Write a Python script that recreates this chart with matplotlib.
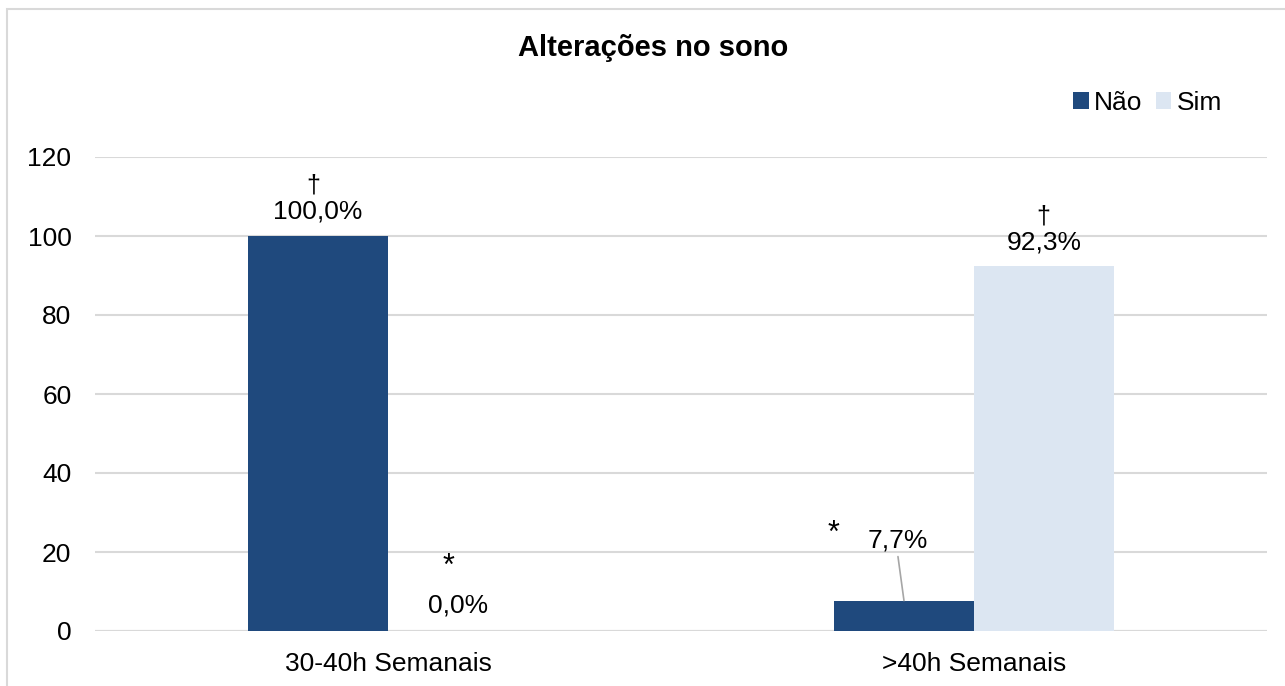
import matplotlib.pyplot as plt
import numpy as np
from matplotlib.patches import Rectangle

plt.rcParams["font.family"] = ["Liberation Sans", "DejaVu Sans"]

categories = ["30-40h Semanais", ">40h Semanais"]
series_names = ["Não", "Sim"]
nao_values = [100.0, 7.7]
sim_values = [0.0, 92.3]
nao_marks = ["†", "*"]
sim_marks = ["*", "†"]
y_ticks = [0, 20, 40, 60, 80, 100, 120]

color_nao = "#1F497D"
color_sim = "#DCE6F2"
grid_color = "#D9D9D9"
FS = 19


def pct(v):
    return f"{v:.1f}%".replace(".", ",")


def mark_size(mark):
    return 22 if mark == "*" else 18


def main():
    fig = plt.figure(figsize=(12.85, 6.86), dpi=100)
    # outer chart border, as in the spreadsheet export
    fig.patches.append(
        Rectangle((7 / 1285, -0.1), 1.5, 1.1 - 9 / 686, transform=fig.transFigure,
                  fill=False, edgecolor=grid_color, linewidth=1.5, zorder=0)
    )
    ax = fig.add_axes([95 / 1285, 1 - 631 / 686, 1172 / 1285, 474 / 686])

    x = np.arange(len(categories))
    width = 0.239
    bars_nao = ax.bar(x - width / 2, nao_values, width, color=color_nao, label=series_names[0], zorder=3)
    bars_sim = ax.bar(x + width / 2, sim_values, width, color=color_sim, label=series_names[1], zorder=3)

    ax.set_xlim(-0.5, len(categories) - 0.5)
    ax.set_ylim(0, 120)
    ax.set_yticks(y_ticks)
    ax.set_xticks(x)
    ax.set_xticklabels(categories)
    ax.tick_params(axis="both", length=0, labelsize=FS, colors="black")
    ax.tick_params(axis="y", pad=17)
    ax.tick_params(axis="x", pad=15)
    ax.yaxis.grid(True, color=grid_color, linewidth=1.5, zorder=0)
    for spine in ax.spines.values():
        spine.set_visible(False)
    ax.axhline(0, color=grid_color, linewidth=1.5, zorder=2)

    # data labels and significance marks (offsets in pixels above bar tops)
    pt = 72 / 100
    label_specs = [
        (bars_nao[0], nao_values[0], nao_marks[0], (0, 24), (-5, 51)),
        (bars_sim[0], sim_values[0], sim_marks[0], (0, 26), (-10, 64)),
        (bars_sim[1], sim_values[1], sim_marks[1], (0, 24), (-1, 50)),
    ]
    for bar, val, mark, lab_off, mark_off in label_specs:
        cx = bar.get_x() + bar.get_width() / 2
        ax.annotate(pct(val), (cx, val), xytext=(lab_off[0] * pt, lab_off[1] * pt),
                    textcoords="offset points", ha="center", va="center", fontsize=FS)
        ax.annotate(mark, (cx, val), xytext=(mark_off[0] * pt, mark_off[1] * pt),
                    textcoords="offset points", ha="center", va="center",
                    fontsize=mark_size(mark))

    # 7,7% label sits above the bar with a leader line
    bar = bars_nao[1]
    cx = bar.get_x() + bar.get_width() / 2
    ax.annotate(pct(nao_values[1]), (cx, nao_values[1]), xytext=(-6 * pt, 60 * pt),
                textcoords="offset points", ha="center", va="center", fontsize=FS)
    ax.annotate("", (cx, nao_values[1]), xytext=(-6 * pt, 44 * pt), textcoords="offset points",
                arrowprops=dict(arrowstyle="-", color="#A6A6A6", linewidth=1.2, shrinkA=0, shrinkB=0))
    ax.annotate(nao_marks[1], (cx, nao_values[1]), xytext=(-70 * pt, 67 * pt),
                textcoords="offset points", ha="center", va="center",
                fontsize=mark_size(nao_marks[1]))

    fig.text(653 / 1285, 1 - 48 / 686, "Alterações no sono", ha="center", va="center",
             fontsize=21, fontweight="bold")
    fig.legend(handles=[bars_nao, bars_sim], labels=series_names, loc="center right",
               bbox_to_anchor=(1222 / 1285, 1 - 103 / 686), ncol=2, frameon=False,
               fontsize=FS, handlelength=0.6, handleheight=0.6, handletextpad=0.2,
               columnspacing=0.5, borderaxespad=0, borderpad=0)

    fig.savefig("out.png", dpi=100)


main()
